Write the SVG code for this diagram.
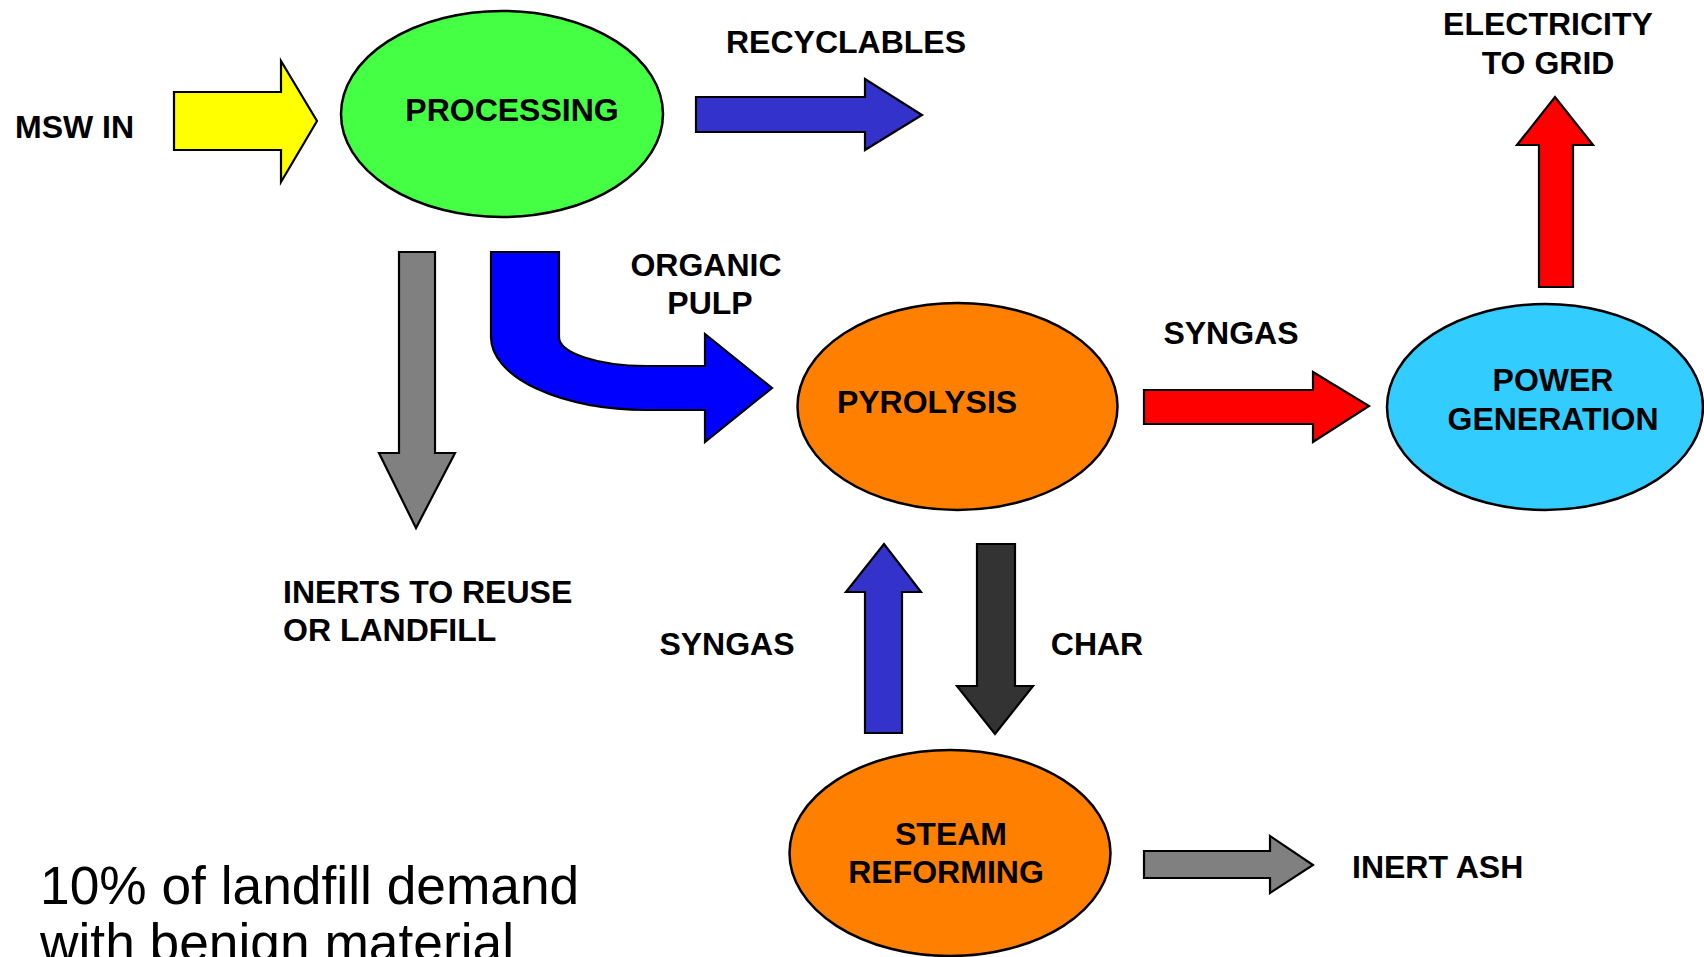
<svg xmlns="http://www.w3.org/2000/svg" width="1704" height="957" viewBox="0 0 1704 957">
<style>
.lbl{font-family:"Liberation Sans",Arial,sans-serif;font-weight:bold;font-size:32px;fill:#000}
.mid{text-anchor:middle}
.note{font-family:"Liberation Sans",Arial,sans-serif;font-size:53.3px;fill:#000}
.node{stroke:#000;stroke-width:2.5}
.arr{stroke:#000;stroke-width:2.2;stroke-linejoin:miter}
</style>
<rect width="1704" height="957" fill="#fff"/>
<g id="connectors">
<polygon id="msw-in" class="arr" fill="#FFFF00" points="174,92 281,92 281,61 317,121 281,182 281,150 174,150"/>
<polygon id="recyclables" class="arr" fill="#3333CC" points="696,97 865,97 865,79 922,115 865,150 865,132 696,132"/>
<polygon id="inerts" class="arr" fill="#808080" points="399,252 435,252 435,453 455,453 416,528 379,453 399,453"/>
<path id="organic-pulp" class="arr" fill="#0000FF" d="M491,252 L559,252 L559,337 A87,29 0 0 0 646,366 L705,366 L705,334 L772,388 L705,442 L705,410 L646,410 A155,73 0 0 1 491,337 Z"/>
<polygon id="syngas-power" class="arr" fill="#FF0000" points="1144,390 1313,390 1313,372 1369,406 1313,442 1313,424 1144,424"/>
<polygon id="electricity" class="arr" fill="#FF0000" points="1539,287 1573,287 1573,145 1593,145 1555,97 1517,145 1539,145"/>
<polygon id="syngas-return" class="arr" fill="#3333CC" points="865,733 902,733 902,592 921,592 884,544 846,592 865,592"/>
<polygon id="char" class="arr" fill="#333333" points="977,544 1015,544 1015,686 1033,686 995,734 957,686 977,686"/>
<polygon id="inert-ash" class="arr" fill="#808080" points="1144,851 1270,851 1270,836 1313,865 1270,893 1270,878 1144,878"/>
</g>
<g id="processing">
<ellipse class="node" cx="502" cy="114" rx="161" ry="103" fill="#44FF44"/>
<text class="lbl mid" x="512" y="121">PROCESSING</text>
</g>
<g id="pyrolysis">
<ellipse class="node" cx="957.5" cy="406.5" rx="160" ry="103.5" fill="#FF8000"/>
<text class="lbl mid" x="927" y="413">PYROLYSIS</text>
</g>
<g id="power-generation">
<ellipse class="node" cx="1545" cy="407" rx="158" ry="103" fill="#33CCFF"/>
<text class="lbl mid" x="1553" y="391">POWER</text>
<text class="lbl mid" x="1553" y="430">GENERATION</text>
</g>
<g id="steam-reforming">
<ellipse class="node" cx="950" cy="853" rx="160.5" ry="103" fill="#FF8000"/>
<text class="lbl mid" x="951" y="845">STEAM</text>
<text class="lbl mid" x="946" y="883">REFORMING</text>
</g>
<g id="labels">
<text class="lbl" x="15" y="138">MSW IN</text>
<text class="lbl mid" x="846" y="53">RECYCLABLES</text>
<text class="lbl mid" x="1548" y="35">ELECTRICITY</text>
<text class="lbl mid" x="1548" y="74">TO GRID</text>
<text class="lbl mid" x="706" y="276">ORGANIC</text>
<text class="lbl mid" x="710" y="314">PULP</text>
<text class="lbl mid" x="1231" y="344">SYNGAS</text>
<text class="lbl" x="283" y="603">INERTS TO REUSE</text>
<text class="lbl" x="283" y="641">OR LANDFILL</text>
<text class="lbl mid" x="727" y="655">SYNGAS</text>
<text class="lbl mid" x="1097" y="655">CHAR</text>
<text class="lbl" x="1352" y="878">INERT ASH</text>
<text class="note" x="40" y="904">10% of landfill demand</text>
<text class="note" x="40" y="961">with benign material</text>
</g>
</svg>
